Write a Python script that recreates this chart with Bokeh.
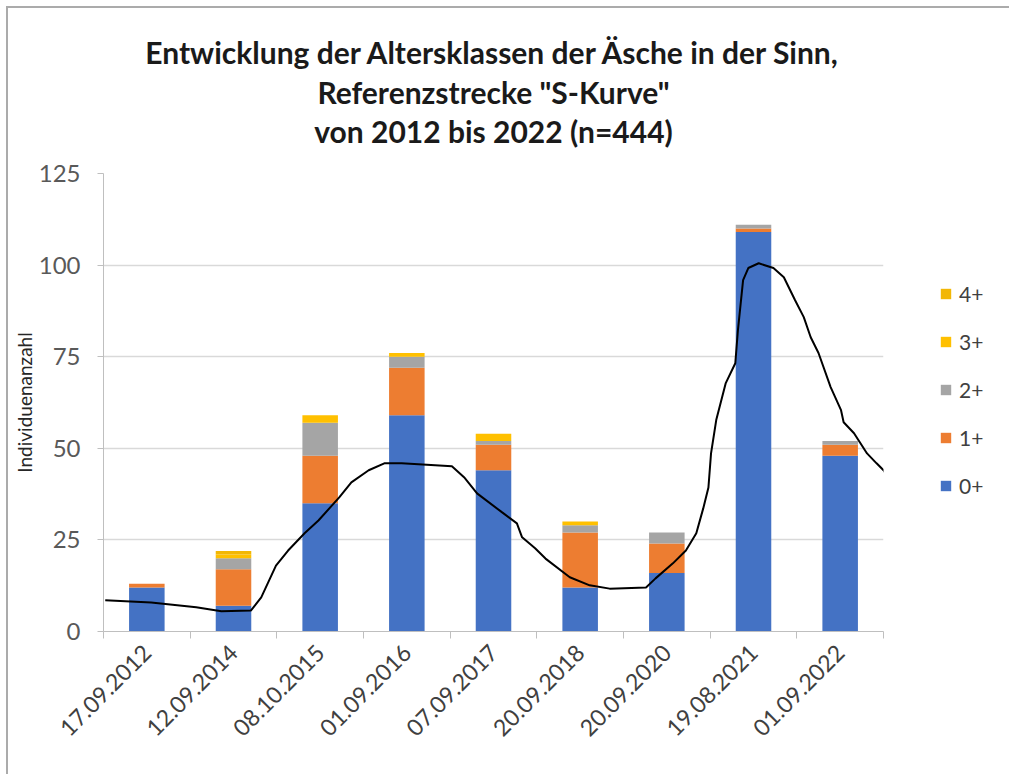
from bokeh.plotting import figure
from bokeh.layouts import row
from bokeh.models import (ColumnDataSource, Range1d, FixedTicker, CustomJSTickFormatter,
                          Legend, LegendItem, Title)
from bokeh.embed import file_html
from bokeh.resources import INLINE

# ---------------- data ----------------
dates = ["17.09.2012", "12.09.2014", "08.10.2015", "01.09.2016", "07.09.2017",
         "20.09.2018", "20.09.2020", "19.08.2021", "01.09.2022"]
age_classes = ["0+", "1+", "2+", "3+", "4+"]
age_0 = [12, 7, 35, 59, 44, 12, 16, 109, 48]
age_1 = [1, 10, 13, 13, 7, 15, 8, 1, 3]
age_2 = [0, 3, 9, 3, 1, 2, 3, 1, 1]
age_3 = [0, 1, 2, 1, 2, 1, 0, 0, 0]
age_4 = [0, 1, 0, 0, 0, 0, 0, 0, 0]
colors = ["#4472C4", "#ED7D31", "#A5A5A5", "#FFC000", "#F2B705"]

# hand-drawn trend curve (x in category units, y in Individuen)
curve_x = [0.02, 0.55, 1.07, 1.36, 1.70, 1.82, 1.99, 2.13, 2.32, 2.48, 2.72, 2.86,
           3.06, 3.24, 3.44, 4.02, 4.16, 4.31, 4.60, 4.77, 4.83, 4.98, 5.10, 5.38,
           5.61, 5.84, 6.26, 6.37, 6.57, 6.72, 6.84, 6.92, 6.98, 7.01, 7.07, 7.18,
           7.29, 7.32, 7.38, 7.44, 7.56, 7.73, 7.85, 7.98, 8.08, 8.16, 8.25, 8.39,
           8.51, 8.54, 8.66, 8.81, 8.92, 9.00, 9.10]
curve_y = [8.5, 7.9, 6.6, 5.5, 5.7, 9.3, 18.0, 22.1, 26.8, 30.3, 36.6, 40.7,
           44.0, 45.9, 45.9, 45.1, 42.1, 37.7, 32.5, 29.5, 25.7, 22.7, 19.9, 14.8,
           12.6, 11.7, 12.0, 14.5, 18.6, 22.1, 26.8, 33.6, 39.3, 48.6, 57.7, 67.8,
           73.2, 82.2, 95.9, 99.2, 100.5, 99.2, 96.7, 90.4, 85.8, 80.3, 76.0, 66.7,
           60.4, 57.1, 54.1, 48.6, 45.9, 44.0, 40.7]

title_lines = ["Entwicklung der Altersklassen der Äsche in der Sinn,",
               "Referenzstrecke \"S-Kurve\"",
               "von 2012 bis 2022 (n=444)"]
y_ticks = [0, 25, 50, 75, 100, 125]

# ---------------- main figure ----------------
FONT = "Lato"
H = 766
PW = 880          # width of the chart figure
LW = 121          # width of the legend strip
p = figure(width=PW, height=H, output_backend="svg", toolbar_location=None,
           x_range=Range1d(0, len(dates)), y_range=Range1d(0, 125),
           min_border_left=95, min_border_right=5, min_border_top=165,
           min_border_bottom=H - 623)
p.outline_line_color = None
p.background_fill_color = "white"
p.border_fill_color = "white"

centers = [i + 0.5 for i in range(len(dates))]
source = ColumnDataSource(dict(x=centers, **{"0+": age_0, "1+": age_1, "2+": age_2,
                                            "3+": age_3, "4+": age_4}))
bars = p.vbar_stack(age_classes, x="x", width=0.41, color=colors, line_color=None,
                    source=source)

p.line(curve_x, curve_y, line_color="black", line_width=2)

# axes
p.xaxis.ticker = FixedTicker(ticks=centers, minor_ticks=list(range(len(dates) + 1)))
p.xaxis.formatter = CustomJSTickFormatter(args=dict(labels=dates),
                                          code="return labels[Math.floor(tick)];")
p.xaxis.major_tick_line_color = None
p.xaxis.minor_tick_line_color = "#BFBFBF"
p.xaxis.minor_tick_in = 0
p.xaxis.minor_tick_out = 7
p.xaxis.axis_line_color = "#BFBFBF"
p.xaxis.major_label_orientation = 0.785398
p.xaxis.major_label_text_font = FONT
p.xaxis.major_label_text_font_size = "23px"
p.xaxis.major_label_text_color = "#404040"
p.xaxis.major_label_standoff = 10

p.yaxis.ticker = FixedTicker(ticks=y_ticks)
p.yaxis.axis_line_color = "#BFBFBF"
p.yaxis.major_tick_line_color = "#BFBFBF"
p.yaxis.major_tick_in = 0
p.yaxis.major_tick_out = 6
p.yaxis.minor_tick_line_color = None
p.yaxis.major_label_text_font = FONT
p.yaxis.major_label_text_font_size = "24px"
p.yaxis.major_label_text_color = "#595959"
p.yaxis.major_label_standoff = 17
p.yaxis.axis_label = "Individuenanzahl"
p.yaxis.axis_label_text_font = FONT
p.yaxis.axis_label_text_font_size = "19px"
p.yaxis.axis_label_text_font_style = "normal"
p.yaxis.axis_label_text_color = "#262626"
p.yaxis.axis_label_standoff = 0

p.xgrid.visible = False
p.ygrid.grid_line_color = "#D9D9D9"
p.ygrid.grid_line_width = 1.5

# title: three centred lines, plus a small spacer above the plot area
p.add_layout(Title(text=" ", text_font_size="1px", standoff=22), "above")
for line, gap in zip(reversed(title_lines), [0, 2, 2]):
    p.add_layout(Title(text=line, align="center", text_font=FONT,
                       text_font_size="30px", text_font_style="bold",
                       text_color="#1a1a1a", standoff=gap), "above")

# ---------------- legend strip ----------------
# the key renderers share the bar data but their ranges keep the bars out of view
lg = figure(width=LW, height=H, output_backend="svg", toolbar_location=None,
            x_range=Range1d(-6, -5), y_range=Range1d(-300, -200),
            x_axis_type=None, y_axis_type=None, min_border=0)
lg.outline_line_color = None
lg.xgrid.visible = False
lg.ygrid.visible = False
key_bars = lg.vbar_stack(age_classes, x="x", width=0.41, color=colors,
                         line_color=None, source=source)
items = [LegendItem(label=c, renderers=[r]) for c, r in zip(age_classes, key_bars)]
legend = Legend(items=list(reversed(items)), location=(51, 133),
                label_text_font=FONT, label_text_font_size="21px",
                label_text_color="#404040", glyph_width=13, glyph_height=13,
                label_height=22, spacing=23, border_line_color=None,
                background_fill_alpha=0, margin=0, padding=0, label_standoff=7)
lg.add_layout(legend, "center")

layout = row(p, lg, styles={"border-left": "2px solid #ABABAB",
                            "border-top": "2px solid #ABABAB",
                            "margin-left": "6px", "margin-top": "6px"})

open("out.html", "w").write(file_html(layout, INLINE))
